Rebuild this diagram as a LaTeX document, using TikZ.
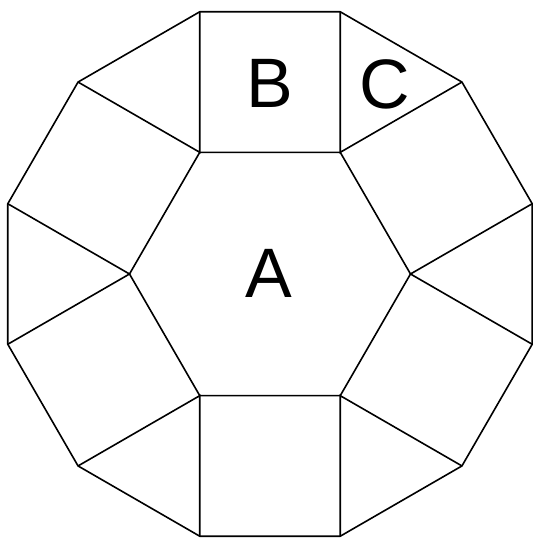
\documentclass[tikz,border=0pt]{standalone}
\usepackage{fontspec}
\setmainfont{Liberation Sans}
\usetikzlibrary{calc}
\begin{document}
\begin{tikzpicture}[x=1pt,y=1pt,
  edge/.style={draw=black,line width=1.6pt,line join=miter},
  lbl/.style={font=\fontsize{70}{70}\selectfont,inner sep=0pt,anchor=center}]
\useasboundingbox (0,0) rectangle (533,539);
\coordinate (O) at (270,265);
\def\sidelen{140.5}
\pgfmathsetmacro{\Rd}{\sidelen/(2*sin(15))}
% hexagon vertices
\foreach \i in {0,...,5}{
  \coordinate (h\i) at ($(O)+(\i*60:\sidelen)$);
}
% dodecagon vertices
\foreach \i in {0,...,11}{
  \coordinate (d\i) at ($(O)+(15+\i*30:\Rd)$);
}
% outer dodecagon
\draw[edge] (d0)--(d1)--(d2)--(d3)--(d4)--(d5)--(d6)--(d7)--(d8)--(d9)--(d10)--(d11)--cycle;
% hexagon
\draw[edge] (h0)--(h1)--(h2)--(h3)--(h4)--(h5)--cycle;
% spokes from hexagon vertices
\foreach \i/\a/\b in {0/11/0,1/1/2,2/3/4,3/5/6,4/7/8,5/9/10}{
  \draw[edge] (d\a)--(h\i)--(d\b);
}
\node[lbl] (A) at (269,266) {A};
\node[lbl] (B) at (270,456) {B};
\node[lbl] (C) at (385,455) {C};
\end{tikzpicture}
\end{document}
